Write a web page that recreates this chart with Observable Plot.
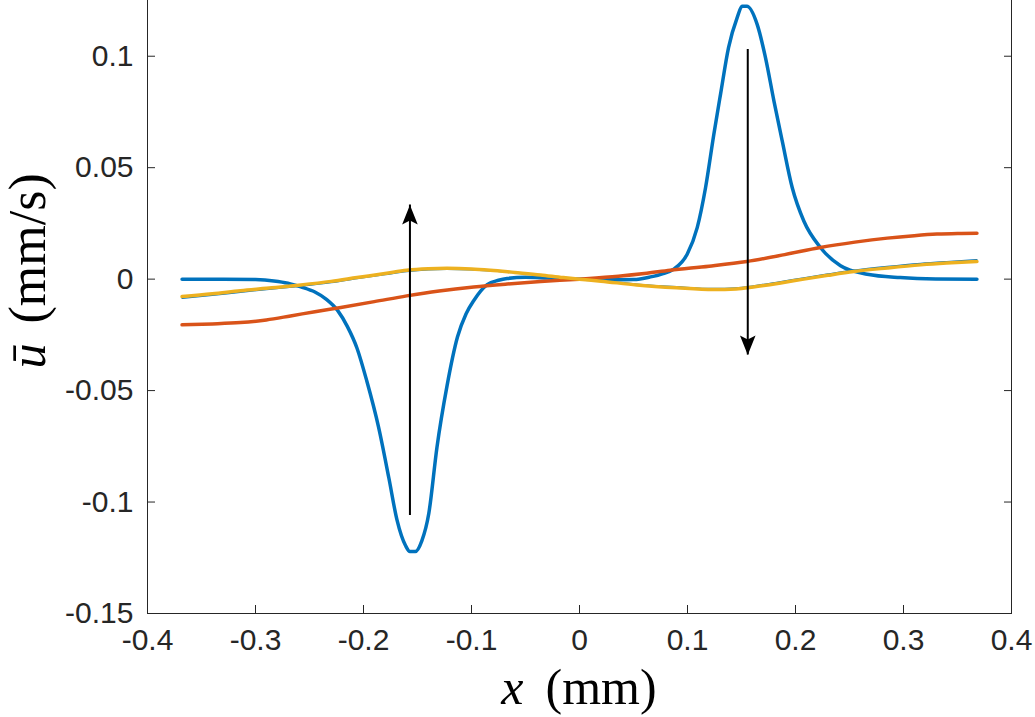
<!DOCTYPE html>
<html><head><meta charset="utf-8">
<script src="https://cdn.jsdelivr.net/npm/d3@7"></script>
<script src="https://cdn.jsdelivr.net/npm/@observablehq/plot@0.6"></script>
<style>body{margin:0;background:#fff;} svg{display:block;background:#fff}</style>
</head><body><div id="chart"></div>
<script>
// ---- tick values and labels ----
const xTicks = [-0.4, -0.3, -0.2, -0.1, 0, 0.1, 0.2, 0.3, 0.4];
const xTickLabels = ["-0.4", "-0.3", "-0.2", "-0.1", "0", "0.1", "0.2", "0.3", "0.4"];
const yTicks = [-0.15, -0.1, -0.05, 0, 0.05, 0.1];
const yTickLabels = ["-0.15", "-0.1", "-0.05", "0", "0.05", "0.1"];

// ---- series 1 (blue, with dip and peak) ----
const blueX = [-0.368, -0.33, -0.3, -0.283, -0.27, -0.258, -0.245, -0.234, -0.224, -0.215, -0.206, -0.197, -0.186, -0.1766, -0.169, -0.161, -0.157, -0.152, -0.146, -0.1395, -0.132, -0.1227, -0.113, -0.105, -0.098, -0.0855, -0.075, -0.067, -0.05, -0.03, 0,
  0.03, 0.05, 0.0657, 0.0775, 0.0873, 0.0997, 0.109, 0.1167, 0.1244, 0.1306, 0.138, 0.146, 0.1505, 0.155, 0.1645, 0.1722, 0.18, 0.1877, 0.197, 0.2077, 0.2231, 0.2417, 0.2664, 0.297, 0.33, 0.368];
const blueU = [0, 0, -0.0002, -0.0008, -0.0018, -0.0035, -0.0058, -0.0092, -0.014, -0.0212, -0.031, -0.0456, -0.0665, -0.089, -0.108, -0.1196, -0.1222, -0.1222, -0.1174, -0.105, -0.0755, -0.048, -0.026, -0.0155, -0.0097, -0.0025, -0.0005, 0.0003, 0.0008, 0.0005, 0,
  -0.0003, -0.0002, 0.001, 0.0025, 0.0045, 0.0112, 0.0231, 0.041, 0.065, 0.083, 0.1039, 0.1173, 0.1224, 0.1224, 0.1143, 0.0994, 0.08, 0.062, 0.041, 0.0261, 0.0142, 0.006, 0.0022, 0.0007, 0.0001, 0];

// ---- series 2 (red) ----
const redX = [-0.368, -0.34, -0.314, -0.29, -0.2676, -0.245, -0.221, -0.19, -0.16, -0.13, -0.098, -0.067, -0.036, 0, 0.036, 0.06, 0.084, 0.12, 0.155, 0.19, 0.223, 0.255, 0.285, 0.31, 0.331, 0.35, 0.368];
const redU = [-0.0205, -0.0201, -0.0195, -0.0183, -0.0165, -0.0146, -0.0127, -0.0101, -0.0075, -0.0053, -0.0035, -0.0022, -0.0011, 0, 0.0013, 0.0025, 0.004, 0.0058, 0.0079, 0.011, 0.0142, 0.0166, 0.0184, 0.0195, 0.0202, 0.0205, 0.0206];

// ---- series 3 (yellow) and thin blue companion ----
const yellowX = [-0.368, -0.34, -0.314, -0.285, -0.258, -0.23, -0.206, -0.18, -0.16, -0.14, -0.1227, -0.1, -0.0825, -0.06, -0.036, -0.015, 0, 0.02, 0.053, 0.09, 0.124, 0.145, 0.161, 0.185, 0.2077, 0.23, 0.254, 0.285, 0.316, 0.34, 0.368];
const yellowU = [-0.0078, -0.0066, -0.0052, -0.0039, -0.0026, -0.001, 0.0007, 0.0025, 0.004, 0.0047, 0.0049, 0.0046, 0.004, 0.003, 0.0019, 0.0007, 0, -0.0009, -0.0026, -0.0039, -0.0047, -0.0044, -0.0035, -0.0018, 0, 0.0017, 0.0034, 0.005, 0.0064, 0.0072, 0.0079];
const thinBlueU = [-0.0086, -0.0073, -0.0059, -0.0045, -0.0032, -0.0016, 0.0002, 0.002, 0.0034, 0.0042, 0.0044, 0.0042, 0.0037, 0.0028, 0.0018, 0.0007, 0, -0.0008, -0.0022, -0.0034, -0.0042, -0.0039, -0.003, -0.0012, 0.0006, 0.0023, 0.004, 0.0057, 0.0071, 0.0079, 0.0087];

// ---- arrows ----
const arrowX = [-0.157, 0.1558];
const arrowFrom = [-0.106, 0.103];
const arrowTo = [0.0333, -0.034];

const zip = (xs, ys) => xs.map((x, i) => ({x, u: ys[i]}));
const blue = zip(blueX, blueU);
const red = zip(redX, redU);
const yellow = zip(yellowX, yellowU);
const thinBlue = zip(yellowX, thinBlueU);
const arrows = arrowX.map((x, i) => ({x, from: arrowFrom[i], to: arrowTo[i]}));

const headUp = {draw(c) { c.moveTo(0, 0); c.lineTo(-7.8, 19.5); c.lineTo(0, 15.5); c.lineTo(7.8, 19.5); c.closePath(); }};
const headDown = {draw(c) { c.moveTo(0, 0); c.lineTo(-7.8, -19.5); c.lineTo(0, -15.5); c.lineTo(7.8, -19.5); c.closePath(); }};

const axisColor = "#262626";
const tickFont = {fontFamily: "Liberation Sans, Arial, sans-serif", fontSize: 30, fill: axisColor};
const labelFont = {fontFamily: "Liberation Serif, Times New Roman, serif", fill: "#000"};

const chart = Plot.plot({
  width: 1035,
  height: 717,
  marginLeft: 147,
  marginRight: 24,
  marginTop: 0,
  marginBottom: 104,
  style: {background: "#fff", color: axisColor, fontFamily: "Liberation Sans, Arial, sans-serif"},
  x: {domain: [-0.4, 0.4], axis: null},
  y: {domain: [-0.15, 0.125], axis: null},
  marks: [
    // frame (left, right, bottom)
    Plot.ruleX([-0.4, 0.4], {stroke: axisColor, strokeWidth: 1}),
    Plot.ruleY([-0.15], {stroke: axisColor, strokeWidth: 1}),
    // inward ticks
    Plot.axisY(yTicks, {anchor: "left", label: null, tickSize: 8, dx: 8, tickFormat: () => "", stroke: axisColor}),
    Plot.axisY(yTicks, {anchor: "right", label: null, tickSize: 8, dx: -8, tickFormat: () => "", stroke: axisColor}),
    Plot.axisX(xTicks, {anchor: "bottom", label: null, tickSize: 8, dy: -8, tickFormat: () => "", stroke: axisColor}),
    // tick labels
    Plot.axisY(yTicks, {anchor: "left", label: null, tickSize: 0, tickPadding: 14, tickFormat: d => yTickLabels[yTicks.indexOf(d)], ...tickFont}),
    Plot.axisX(xTicks, {anchor: "bottom", label: null, tickSize: 0, tickPadding: 15, tickFormat: d => xTickLabels[xTicks.indexOf(d)], ...tickFont}),
    // data lines
    Plot.line(blue, {x: "x", y: "u", stroke: "#0072BD", strokeWidth: 3.5, curve: "monotone-x"}),
    Plot.line(red, {x: "x", y: "u", stroke: "#D95319", strokeWidth: 3.5, curve: "monotone-x"}),
    Plot.line(thinBlue, {x: "x", y: "u", stroke: "#0072BD", strokeWidth: 1.3, curve: "monotone-x"}),
    Plot.line(yellow, {x: "x", y: "u", stroke: "#EDB120", strokeWidth: 3.5, curve: "monotone-x"}),
    // arrows
    Plot.ruleX(arrows, {x: "x", y1: "from", y2: "to", stroke: "#000", strokeWidth: 2}),
    Plot.dot(arrows.filter(d => d.to > d.from), {x: "x", y: "to", r: 6, symbol: headUp, fill: "#000", stroke: "none"}),
    Plot.dot(arrows.filter(d => d.to < d.from), {x: "x", y: "to", r: 6, symbol: headDown, fill: "#000", stroke: "none"}),
    // axis labels
    Plot.text(["x"], {frameAnchor: "bottom", text: d => d, textAnchor: "end", lineAnchor: "bottom", dx: -56, dy: 90, fontStyle: "italic", fontSize: 50, ...labelFont}),
    Plot.text(["(mm)"], {frameAnchor: "bottom", text: d => d, textAnchor: "start", lineAnchor: "bottom", dx: -34, dy: 90, fontSize: 50, ...labelFont}),
    Plot.text(["ū"], {frameAnchor: "left", text: d => d, rotate: -90, textAnchor: "start", lineAnchor: "bottom", dx: -103, dy: 61.5, fontStyle: "italic", fontSize: 50, ...labelFont}),
    Plot.text(["(mm/s)"], {frameAnchor: "left", text: d => d, rotate: -90, textAnchor: "start", lineAnchor: "bottom", dx: -103, dy: 16.5, fontSize: 52, ...labelFont})
  ]
});
document.getElementById("chart").appendChild(chart);
</script>
</body></html>
